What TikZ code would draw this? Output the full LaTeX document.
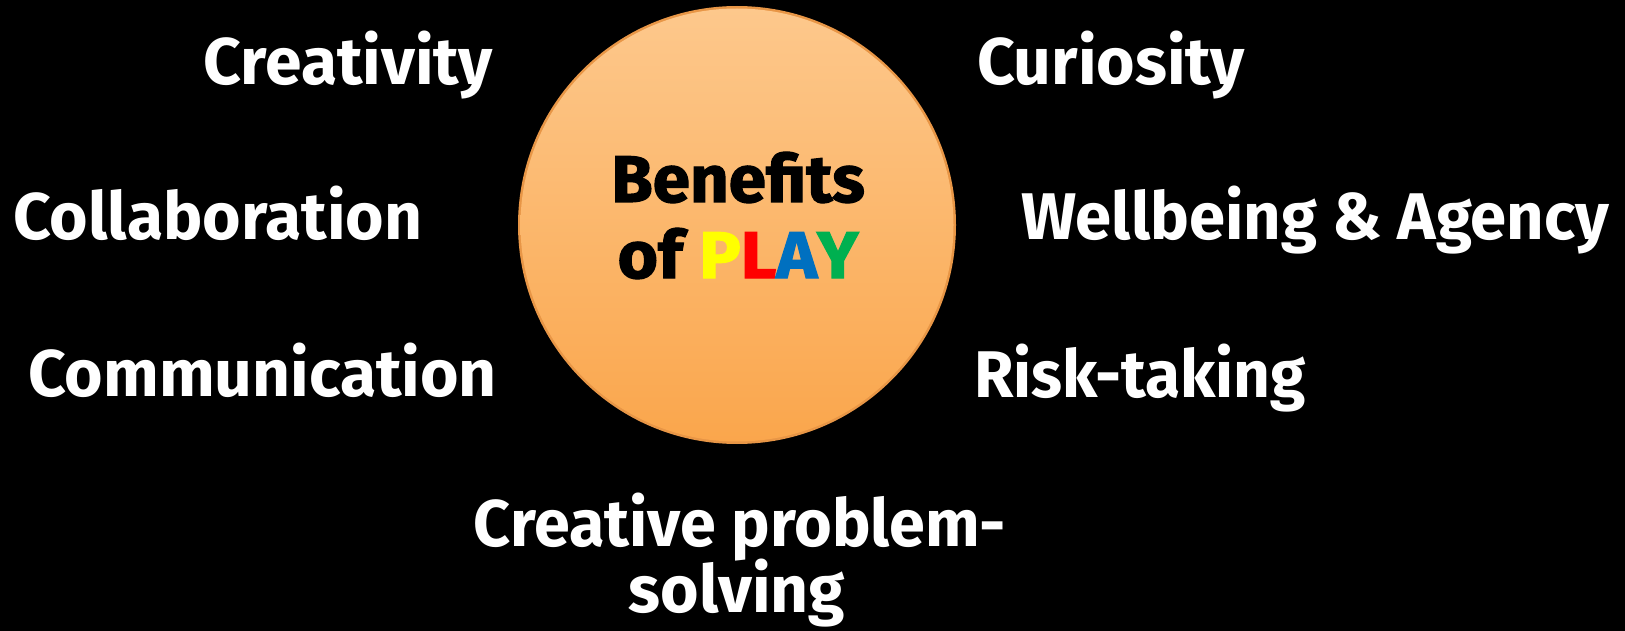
\documentclass[tikz,border=0pt]{standalone}
\usepackage{fontspec}
\setmainfont{Fira Sans}
\newfontfamily\heavyfont[BoldFeatures={FakeBold=1.8}]{Fira Sans}
\begin{document}
\begin{tikzpicture}[x=1pt,y=-1pt,
  lbl/.style={text=white,font=\bfseries\fontsize{66}{76}\selectfont,inner sep=0pt,outer sep=0pt},
  ctr/.style={text=black,font=\heavyfont\bfseries\fontsize{66}{76}\selectfont,inner sep=0pt,align=center}]
\definecolor{ctop}{RGB}{253,200,140}
\definecolor{cbot}{RGB}{250,166,76}
\definecolor{crim}{RGB}{232,150,70}
\definecolor{pyel}{RGB}{255,255,0}
\definecolor{pred}{RGB}{255,0,0}
\definecolor{pblu}{RGB}{0,112,192}
\definecolor{pgrn}{RGB}{0,176,80}
\fill[black] (0,0) rectangle (1625,631);
\useasboundingbox (0,0) rectangle (1625,631);
% circle
\fill[crim] (737,225) circle[radius=219];
\shade[top color=ctop,bottom color=cbot] (737,225) circle[radius=216.5];
\node[ctr,anchor=base] (b1) at (738,202) {\scalebox{1.02}[1]{Benefits}};
\node[ctr,anchor=base] (b2) at (738,278) {\scalebox{1.05}[1]{of \textcolor{pyel}{P}\textcolor{pred}{L}\textcolor{pblu}{A}\textcolor{pgrn}{Y}}};
% left labels
\node[lbl,anchor=base east] (cre) at (493,85) {Creativity};
\node[lbl,anchor=base west] (col) at (13,240) {Collaboration};
\node[lbl,anchor=base east] (com) at (497,396) {Communication};
% right labels
\node[lbl,anchor=base west] (cur) at (977,85) {Curiosity};
\node[lbl,anchor=base west] (wel) at (1021,240) {\scalebox{0.988}[1]{Wellbeing \& Agency}};
\node[lbl,anchor=base west] (ris) at (974,397) {\scalebox{0.97}[1]{Risk-taking}};
% bottom
\node[lbl,anchor=base] (cp1) at (740,546) {\scalebox{0.98}[1]{Creative problem-}};
\node[lbl,anchor=base] (cp2) at (737,612) {solving};
\end{tikzpicture}
\end{document}
